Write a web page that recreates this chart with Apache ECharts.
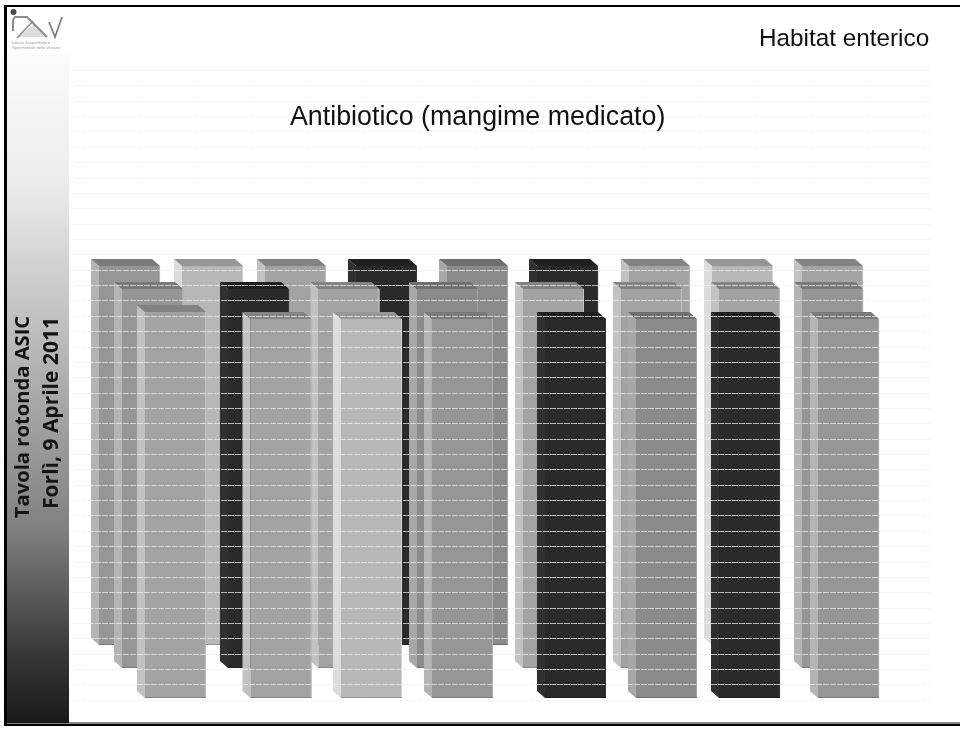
<!DOCTYPE html>
<html>
<head>
<meta charset="utf-8">
<title>Antibiotico (mangime medicato)</title>
<style>
  html, body { margin: 0; padding: 0; background: #fff; }
  #chart { width: 960px; height: 731px; }
</style>
<script src="https://cdn.jsdelivr.net/npm/echarts@6/dist/echarts.min.js"></script>
</head>
<body>
<div id="chart"></div>
<script>
// Column positions along the horizontal scale, one list per depth row.
const backPositions  = [2.92, 12.62, 22.31, 32.94, 43.57, 54.09, 64.84, 74.53, 85.05];
const middlePositions = [5.61, 17.99, 28.56, 40.07, 52.45, 63.90, 75.35, 85.05];
const frontPositions = [8.29, 20.62, 31.19, 41.82, 55.02, 65.65, 75.35, 86.92];

// Column top values.
const backTops   = [28.26, 28.26, 28.26, 28.26, 28.26, 28.26, 28.26, 28.26, 28.26];
const middleTops = [26.76, 26.76, 26.76, 26.76, 26.76, 26.76, 26.76, 26.76];
const frontTops  = [25.26, 24.80, 24.80, 24.80, 24.80, 24.80, 24.80, 24.80];

// Column base values.
const backBases   = [3.58, 3.58, 3.58, 3.58, 3.58, 3.58, 3.58, 3.58, 3.58];
const middleBases = [2.08, 2.08, 2.08, 2.08, 2.08, 2.08, 2.08, 2.08];
const frontBases  = [0.13, 0.13, 0.13, 0.13, 0.13, 0.13, 0.13, 0.13];

// Grey class of each column (index into the shade table).
const backShades   = [2, 4, 3, 0, 1, 0, 3, 4, 3];
const middleShades = [2, 0, 3, 1, 3, 3, 3, 2];
const frontShades  = [3, 3, 4, 2, 0, 1, 0, 2];

const columnSpan = 7.13;      // column width, in units of the horizontal scale
const depthX = 8, depthY = 7; // oblique offset of the rear edge, in pixels

const shades = [
  { face: '#2a2a2a', side: '#303030', top: '#1f1f1f', edge: '#3a3a3a' },
  { face: '#8b8b8b', side: '#a7a7a7', top: '#6f6f6f', edge: '#a5a5a5' },
  { face: '#969696', side: '#b4b4b4', top: '#7a7a7a', edge: '#b0b0b0' },
  { face: '#a3a3a3', side: '#c2c2c2', top: '#838383', edge: '#c0c0c0' },
  { face: '#b7b7b7', side: '#dcdcdc', top: '#969696', edge: '#d4d4d4' }
];

function toRows(positions, bases, tops, tones) {
  return positions.map((p, i) => [p, bases[i], tops[i], tones[i]]);
}

// Oblique box: front face, left side and top, with thin right and bottom edges.
function renderColumn(params, api) {
  const tone = shades[api.value(3)];
  const bottomLeft = api.coord([api.value(0), api.value(1)]);
  const topRight = api.coord([api.value(0) + columnSpan, api.value(2)]);
  const x0 = bottomLeft[0], y1 = bottomLeft[1], x1 = topRight[0], y0 = topRight[1];
  return {
    type: 'group',
    children: [
      { type: 'polygon', shape: { points: [[x0 - depthX, y0 - depthY], [x0, y0], [x0, y1], [x0 - depthX, y1 - depthY]] },
        style: { fill: tone.side } },
      { type: 'polygon', shape: { points: [[x0 - depthX, y0 - depthY], [x1 - depthX, y0 - depthY], [x1, y0], [x0, y0]] },
        style: { fill: tone.top } },
      { type: 'rect', shape: { x: x0, y: y0, width: x1 - x0, height: y1 - y0 },
        style: { fill: tone.face } },
      { type: 'rect', shape: { x: x1 - 1, y: y0, width: 1, height: y1 - y0 },
        style: { fill: tone.edge } },
      { type: 'rect', shape: { x: x0, y: y1 - 1, width: x1 - x0, height: 1 },
        style: { fill: tone.top } }
    ]
  };
}

function rowSeries(name, data) {
  return {
    type: 'custom',
    name: name,
    z: 1,
    silent: true,
    clip: false,
    renderItem: renderColumn,
    encode: { x: 0, y: [1, 2] },
    data: data
  };
}

const chart = echarts.init(document.getElementById('chart'), null, { renderer: 'canvas' });

chart.setOption({
  animation: false,
  backgroundColor: '#ffffff',
  title: [
    { text: 'Antibiotico (mangime medicato)', left: 285, top: 99,
      textStyle: { fontFamily: 'Liberation Sans', fontSize: 26.8, fontWeight: 'normal', color: '#111111' } },
    { text: 'Habitat enterico', left: 754, top: 22,
      textStyle: { fontFamily: 'Liberation Sans', fontSize: 24.3, fontWeight: 'normal', color: '#111111' } }
  ],
  grid: { left: 74, right: 30, top: 70.3, bottom: 31 },
  xAxis: { type: 'value', min: 0, max: 100, show: false },
  yAxis: {
    type: 'value', min: 0, max: 41, interval: 1, z: 3,
    axisLine: { show: false }, axisTick: { show: false }, axisLabel: { show: false },
    splitLine: { show: true, lineStyle: { color: '#f0f0f0', opacity: 0.7, width: 1, type: [6, 1] } }
  },
  graphic: [
    // Sidebar with its vertical fade
    { type: 'rect', z: 0, shape: { x: 7, y: 55, width: 62, height: 668 },
      style: { fill: new echarts.graphic.LinearGradient(0, 0, 0, 1, [
        { offset: 0, color: '#fbfbfb' },
        { offset: 0.19, color: '#ececec' },
        { offset: 0.37, color: '#c6c6c6' },
        { offset: 0.71, color: '#808080' },
        { offset: 0.90, color: '#363636' },
        { offset: 1, color: '#1a1a1a' }
      ]) } },
    { type: 'text', z: 5, x: 23, y: 417, rotation: Math.PI / 2,
      style: { text: 'Tavola rotonda ASIC', fill: '#141414', align: 'center', verticalAlign: 'middle',
        font: 'bold 20.2px "Open Sans"' } },
    { type: 'text', z: 5, x: 52, y: 413, rotation: Math.PI / 2,
      style: { text: 'Forlì, 9 Aprile 2011', fill: '#141414', align: 'center', verticalAlign: 'middle',
        font: 'bold 21px "Open Sans"' } },
    // Frame
    { type: 'rect', z: 6, shape: { x: 4, y: 5, width: 956, height: 2 }, style: { fill: '#000000' } },
    { type: 'rect', z: 6, shape: { x: 4, y: 5, width: 3, height: 721 }, style: { fill: '#000000' } },
    { type: 'rect', z: 6, shape: { x: 4, y: 723.5, width: 956, height: 2.5 }, style: { fill: '#000000' } },
    { type: 'rect', z: 6, shape: { x: 69, y: 722, width: 891, height: 1.5 }, style: { fill: '#8c8c8c' } },
    // Institute mark
    { type: 'circle', z: 5, shape: { cx: 13.5, cy: 12, r: 3 }, style: { fill: '#4a4a4a' } },
    { type: 'polygon', z: 5, shape: { points: [[18, 37], [34, 24], [47, 37]] }, style: { fill: '#dcdcdc' } },
    { type: 'polyline', z: 5, shape: { points: [[13, 31], [13, 20], [15, 17], [27, 17], [47, 37]] },
      style: { stroke: '#8c8c8c', lineWidth: 2, fill: null } },
    { type: 'polyline', z: 5, shape: { points: [[17, 38], [33, 21]] },
      style: { stroke: '#8c8c8c', lineWidth: 1.6, fill: null } },
    { type: 'polyline', z: 5, shape: { points: [[49, 22], [55, 37], [62, 17]] },
      style: { stroke: '#808080', lineWidth: 1.8, fill: null } },
    { type: 'text', z: 5, x: 12, y: 41, style: { text: 'Istituto Zooprofilattico', fill: '#a0a0a0', font: '4px "Liberation Sans"' } },
    { type: 'text', z: 5, x: 12, y: 46, style: { text: 'Sperimentale delle Venezie', fill: '#a0a0a0', font: '4px "Liberation Sans"' } }
  ],
  series: [
    rowSeries('Fila posteriore', toRows(backPositions, backBases, backTops, backShades)),
    rowSeries('Fila centrale', toRows(middlePositions, middleBases, middleTops, middleShades)),
    rowSeries('Fila anteriore', toRows(frontPositions, frontBases, frontTops, frontShades))
  ]
});
</script>
</body>
</html>
